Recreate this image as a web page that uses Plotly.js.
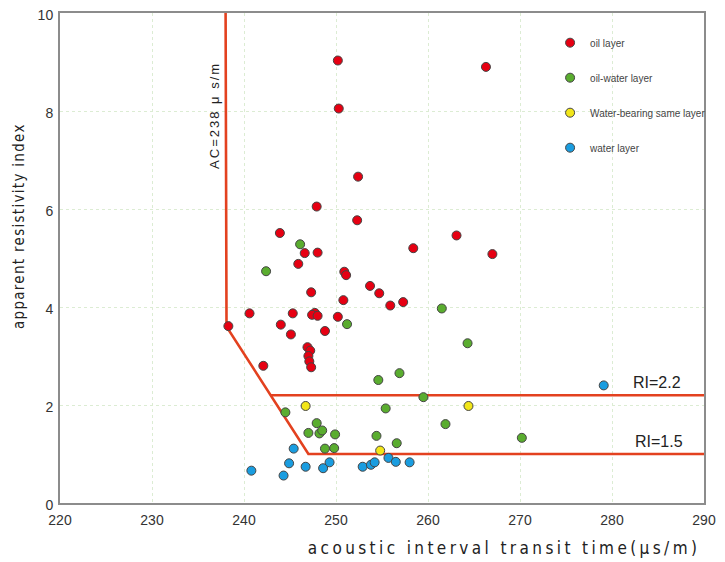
<!DOCTYPE html>
<html>
<head>
<meta charset="utf-8">
<script src="https://cdn.plot.ly/plotly-3.0.1.min.js"></script>
<style>
  html, body { margin:0; padding:0; background:#fff; }
  #chart { width:725px; height:562px; }
  g.annotation[data-index="0"] text { letter-spacing: 3.4px; }
  g.annotation[data-index="1"] text { letter-spacing: 1.3px; }
  g.annotation[data-index="2"] text { letter-spacing: 2px; }
</style>
</head>
<body>
<div id="chart"></div>
<script>
// ---- data ----
const oilX = [250.2, 250.3, 252.4, 247.9, 252.3, 243.9, 246.6, 248.0, 258.4, 245.9, 250.9, 251.1, 253.7, 254.7, 247.3, 250.8, 257.3, 255.9, 240.6, 245.3, 247.7, 247.4, 248.0, 250.2, 238.3, 244.0, 245.1, 248.8, 246.9, 247.2, 247.0, 247.1, 247.3, 242.1, 266.3, 263.1, 267.0];
const oilY = [9.03, 8.05, 6.66, 6.05, 5.77, 5.51, 5.10, 5.11, 5.20, 4.88, 4.72, 4.65, 4.43, 4.28, 4.30, 4.14, 4.10, 4.03, 3.87, 3.87, 3.88, 3.84, 3.82, 3.80, 3.61, 3.64, 3.44, 3.51, 3.18, 3.11, 3.00, 2.89, 2.77, 2.80, 8.90, 5.46, 5.08];

const oilWaterX = [246.1, 242.4, 251.2, 261.5, 264.3, 254.6, 256.9, 259.5, 261.9, 244.5, 255.4, 247.9, 247.0, 248.2, 248.5, 249.9, 254.4, 256.6, 248.8, 249.8, 270.2];
const oilWaterY = [5.28, 4.73, 3.65, 3.97, 3.26, 2.51, 2.65, 2.16, 1.61, 1.85, 1.93, 1.63, 1.43, 1.42, 1.48, 1.40, 1.37, 1.22, 1.11, 1.12, 1.33];

const waterBearingX = [246.7, 254.8, 264.4];
const waterBearingY = [1.98, 1.07, 1.98];

const waterX = [245.4, 240.8, 244.9, 244.3, 246.7, 248.6, 249.3, 252.9, 253.8, 254.2, 255.7, 256.5, 258.0, 279.1];
const waterY = [1.11, 0.66, 0.81, 0.56, 0.74, 0.71, 0.83, 0.74, 0.78, 0.83, 0.92, 0.84, 0.83, 2.40];

// boundary lines
const boundaryX = [238.0, 238.1, 247.0, 290];
const boundaryY = [10, 3.6, 1.0, 1.0];
const ri22X = [242.9, 290];
const ri22Y = [2.2, 2.2];

const xTicks = [220, 230, 240, 250, 260, 270, 280, 290];
const yTicks = [0, 2, 4, 6, 8, 10];

const seriesNames = ['oil layer', 'oil-water layer', 'Water-bearing same layer', 'water layer'];
const seriesColors = ['#e60012', '#5aad2f', '#f2e619', '#1a9de0'];

// ---- plot ----
const lineColor = '#e3411f';
const lineStyle = {color: lineColor, width: 2.6};
const traces = [
  {x: boundaryX, y: boundaryY, mode: 'lines', line: lineStyle, showlegend: false, hoverinfo: 'skip'},
  {x: ri22X, y: ri22Y, mode: 'lines', line: lineStyle, showlegend: false, hoverinfo: 'skip'}
];
const sets = [[oilX, oilY], [oilWaterX, oilWaterY], [waterBearingX, waterBearingY], [waterX, waterY]];
sets.forEach((s, i) => {
  traces.push({
    x: s[0], y: s[1], mode: 'markers', type: 'scatter',
    name: seriesNames[i], legendgroup: 'g' + i,
    marker: {color: seriesColors[i], size: 9, line: {color: '#444', width: 1}}
  });
});

const tickFont = {family: 'Liberation Sans, Arial, sans-serif', size: 14, color: '#333'};
const layout = {
  width: 725, height: 562,
  margin: {l: 60, r: 21, t: 13, b: 59},
  paper_bgcolor: '#fff', plot_bgcolor: '#fff',
  showlegend: true,
  legend: {
    x: 0.761, y: 0.969, xanchor: 'left', yanchor: 'top',
    font: {family: 'Liberation Sans, Arial, sans-serif', size: 10, color: '#444'},
    tracegroupgap: 16, bgcolor: 'rgba(0,0,0,0)'
  },
  xaxis: {
    range: [220, 290], tickvals: xTicks, ticktext: xTicks.map(String),
    showgrid: true, gridcolor: '#dcecd3', griddash: 'dot', gridwidth: 1,
    zeroline: false, showline: true, linecolor: '#8c8c8c', linewidth: 2, mirror: true,
    ticks: '', tickfont: tickFont, ticklabelstandoff: 3
  },
  yaxis: {
    range: [0, 10], tickvals: yTicks, ticktext: yTicks.map(String),
    showgrid: true, gridcolor: '#dcecd3', griddash: 'dot', gridwidth: 1,
    zeroline: false, showline: true, linecolor: '#8c8c8c', linewidth: 2, mirror: true,
    ticks: '', tickfont: tickFont, ticklabelshift: 2, ticklabelstandoff: 2
  },
  annotations: [
    {xref: 'paper', yref: 'paper', x: 0.6894, y: -0.091, xanchor: 'center', yanchor: 'middle',
     text: 'acoustic interval transit time(μs/m)', showarrow: false,
     font: {family: 'Liberation Sans Narrow, DejaVu Sans Condensed, Liberation Sans, sans-serif', size: 17, color: '#222'}},
    {xref: 'paper', yref: 'paper', x: -0.0637, y: 0.565, xanchor: 'center', yanchor: 'middle',
     text: 'apparent resistivity index', showarrow: false, textangle: -90,
     font: {family: 'Liberation Sans Narrow, DejaVu Sans Condensed, Liberation Sans, sans-serif', size: 15, color: '#222'}},
    {xref: 'x', yref: 'y', x: 236.85, y: 7.9, xanchor: 'center', yanchor: 'middle',
     text: 'AC=238 μ s/m', showarrow: false, textangle: -90,
     font: {family: 'Liberation Sans, Arial, sans-serif', size: 13, color: '#222'}},
    {xref: 'x', yref: 'y', x: 284.9, y: 2.45, xanchor: 'center', yanchor: 'middle',
     text: 'RI=2.2', showarrow: false,
     font: {family: 'Liberation Sans, Arial, sans-serif', size: 16, color: '#222'}},
    {xref: 'x', yref: 'y', x: 285.1, y: 1.25, xanchor: 'center', yanchor: 'middle',
     text: 'RI=1.5', showarrow: false,
     font: {family: 'Liberation Sans, Arial, sans-serif', size: 16, color: '#222'}}
  ]
};

Plotly.newPlot('chart', traces, layout, {displayModeBar: false, staticPlot: true});
</script>
</body>
</html>
